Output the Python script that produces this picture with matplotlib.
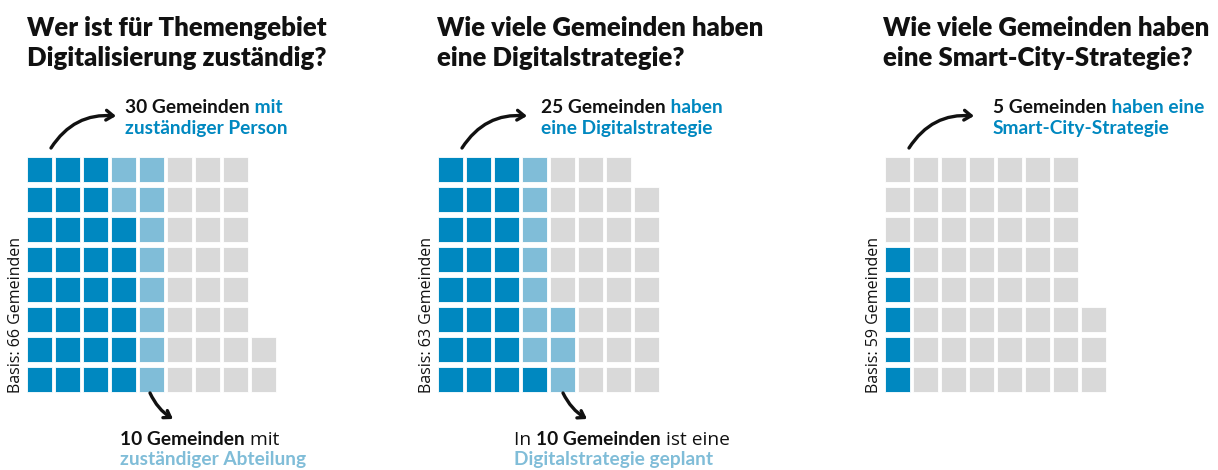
import matplotlib
matplotlib.use("Agg")
import matplotlib.pyplot as plt

# data: dark, light, gray counts per panel
titles = [["Wer ist für Themengebiet", "Digitalisierung zuständig?"],
          ["Wie viele Gemeinden haben", "eine Digitalstrategie?"],
          ["Wie viele Gemeinden haben", "eine Smart-City-Strategie?"]]
dark_counts = [30, 25, 5]
light_counts = [10, 10, 0]
basis = [66, 63, 59]
ylabels = ["Basis: 66 Gemeinden", "Basis: 63 Gemeinden", "Basis: 59 Gemeinden"]

DARK = "#0088c0"
LIGHT = "#80bdd8"
GRAY = "#d9d9d9"
BLACK = "#111111"

BOLD = "Lato"
REG = "Open Sans"

# layout in pixel coords
panel_x = [27, 438, 885]
title_x = [27, 437, 883]
rows = 8
pitch_x, pitch_y, cell = 28, 30, 25
grid_bottom = 392

fig = plt.figure(figsize=(12.18, 4.70), dpi=100)
ax = fig.add_axes([0, 0, 1, 1])
ax.set_xlim(0, 1218)
ax.set_ylim(470, 0)
ax.axis("off")
renderer = fig.canvas.get_renderer()


def rich_line(x, y, parts, size):
    # parts: list of (text, color, bold)
    for txt, col, bold in parts:
        t = ax.text(x, y, txt, color=col, fontsize=size,
                    family=BOLD if bold else REG,
                    fontweight="bold" if bold else "normal",
                    ha="left", va="baseline")
        x += t.get_window_extent(renderer).width


for p in range(3):
    colors = [DARK] * dark_counts[p] + [LIGHT] * light_counts[p]
    colors += [GRAY] * (basis[p] - len(colors))
    xs, ys = [], []
    for i in range(basis[p]):
        col, r = divmod(i, rows)
        xs.append(panel_x[p] + col * pitch_x)
        ys.append(grid_bottom - (r + 1) * pitch_y + (pitch_y - cell))
    ax.bar(xs, cell, width=cell, bottom=ys, align="edge", color=colors,
           edgecolor="white", linewidth=0.6)

    # title, two lines
    for k, line in enumerate(titles[p]):
        ax.text(title_x[p], 36 + k * 30, line, fontsize=18.5, family=BOLD,
                fontweight="heavy", color=BLACK, ha="left", va="baseline")

    # y label
    ax.text(panel_x[p] - 11, grid_bottom + 1, ylabels[p], rotation=90,
            fontsize=11.5, family=REG, color=BLACK, ha="center", va="bottom")

# top annotations
top_x = [125, 541, 993]
top_parts = [
    [[("30 Gemeinden", BLACK, True), (" mit", DARK, True)],
     [("zuständiger Person", DARK, True)]],
    [[("25 Gemeinden", BLACK, True), (" haben", DARK, True)],
     [("eine Digitalstrategie", DARK, True)]],
    [[("5 Gemeinden", BLACK, True), (" haben eine", DARK, True)],
     [("Smart-City-Strategie", DARK, True)]],
]
for p in range(3):
    rich_line(top_x[p], 113, top_parts[p][0], 13.8)
    rich_line(top_x[p], 134, top_parts[p][1], 13.8)
    x0 = panel_x[p]
    ax.annotate("", xy=(x0 + 89, 116), xytext=(x0 + 24, 148),
                arrowprops=dict(arrowstyle="->,head_length=0.5,head_width=0.35",
                                color=BLACK, lw=2.4,
                                connectionstyle="arc3,rad=-0.3",
                                shrinkA=0, shrinkB=0))

# bottom annotations
bot_x = [120, 514]
bot_parts = [
    [[("10 Gemeinden", BLACK, True), (" mit", BLACK, False)],
     [("zuständiger Abteilung", LIGHT, True)]],
    [[("In ", BLACK, False), ("10 Gemeinden", BLACK, True), (" ist eine", BLACK, False)],
     [("Digitalstrategie geplant", LIGHT, True)]],
]
bot_arrow = [(150, 393, 173, 419), (563, 393, 587, 419)]
for p in range(2):
    rich_line(bot_x[p], 445, bot_parts[p][0], 13.8)
    rich_line(bot_x[p], 465, bot_parts[p][1], 13.8)
    xa, ya, xb, yb = bot_arrow[p]
    ax.annotate("", xy=(xb, yb), xytext=(xa, ya),
                arrowprops=dict(arrowstyle="->,head_length=0.45,head_width=0.3",
                                color=BLACK, lw=2.4,
                                connectionstyle="arc3,rad=0.15",
                                shrinkA=0, shrinkB=0))

fig.savefig("out.png", dpi=100)
